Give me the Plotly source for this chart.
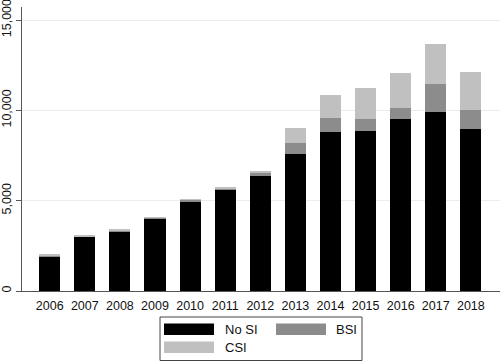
import plotly.graph_objects as go

years = [2006, 2007, 2008, 2009, 2010, 2011, 2012, 2013, 2014, 2015, 2016, 2017, 2018]
no_si = [1920, 2990, 3300, 4005, 4980, 5630, 6365, 7565, 8785, 8840, 9500, 9930, 8985]
bsi = [60, 40, 70, 40, 70, 60, 170, 625, 770, 680, 650, 1550, 1050]
csi = [30, 15, 30, 15, 40, 30, 110, 815, 1290, 1700, 1935, 2215, 2100]
series_names = ["No SI", "BSI", "CSI"]
series_colors = ["#000000", "#8c8c8c", "#c0c0c0"]
y_ticks = [0, 5000, 10000, 15000]

W, H = 500, 362
ML, MR, MT, MB = 22, 0, 7, 71
PW, PH = W - ML - MR, H - MT - MB

fig = go.Figure()
for name, vals, col in zip(series_names, [no_si, bsi, csi], series_colors):
    fig.add_trace(go.Bar(x=years, y=vals, name=name, marker=dict(color=col, line=dict(width=0)),
                         width=0.6, showlegend=False))

fig.update_layout(
    barmode="stack",
    width=W, height=H,
    margin=dict(l=ML, r=MR, t=MT, b=MB, autoexpand=False),
    paper_bgcolor="white", plot_bgcolor="white",
    font=dict(family="Liberation Sans, Arial, sans-serif", size=12.5, color="#111"),
    xaxis=dict(range=[2005.21, 2018.83], tickvals=years, ticktext=[str(y) for y in years],
               showline=True, linecolor="#555", linewidth=1, ticks="", showgrid=False,
               zeroline=False, tickfont=dict(size=12.5), automargin=False,
               ticklabelstandoff=3),
    yaxis=dict(range=[0, 15720], tickvals=y_ticks, tickformat=",", tickangle=-90,
               showline=True, linecolor="#555", linewidth=1, ticks="outside", ticklen=5,
               tickcolor="#555", showgrid=True, gridcolor="#ececec", gridwidth=1,
               zeroline=False, tickfont=dict(size=12.5), automargin=False,
               ticklabeloverflow="allow"),
)

def px_x(p):
    return (p - ML) / PW

def px_y(p):
    return (H - MB - p) / PH

# legend box
fig.add_shape(type="rect", xref="paper", yref="paper",
              x0=px_x(160), x1=px_x(362), y0=px_y(360.5), y1=px_y(317),
              line=dict(color="#444", width=1), fillcolor="white")
legend_pos = [(164, 323.5, 222.5), (276, 323.5, 334), (164, 341.5, 222.5)]
for (sx, sy, tx), name, col in zip(legend_pos, series_names, series_colors):
    fig.add_shape(type="rect", xref="paper", yref="paper",
                  x0=px_x(sx), x1=px_x(sx + 50), y0=px_y(sy + 11.5), y1=px_y(sy),
                  line=dict(width=0), fillcolor=col)
    fig.add_annotation(xref="paper", yref="paper", x=px_x(tx), y=px_y(sy + 5.75),
                       text=name, showarrow=False, xanchor="left", yanchor="middle",
                       font=dict(size=13, color="#111"))

fig.write_html("out.html", config={"displayModeBar": False},
               post_script="document.body.style.margin='0';document.body.style.overflow='hidden';")
